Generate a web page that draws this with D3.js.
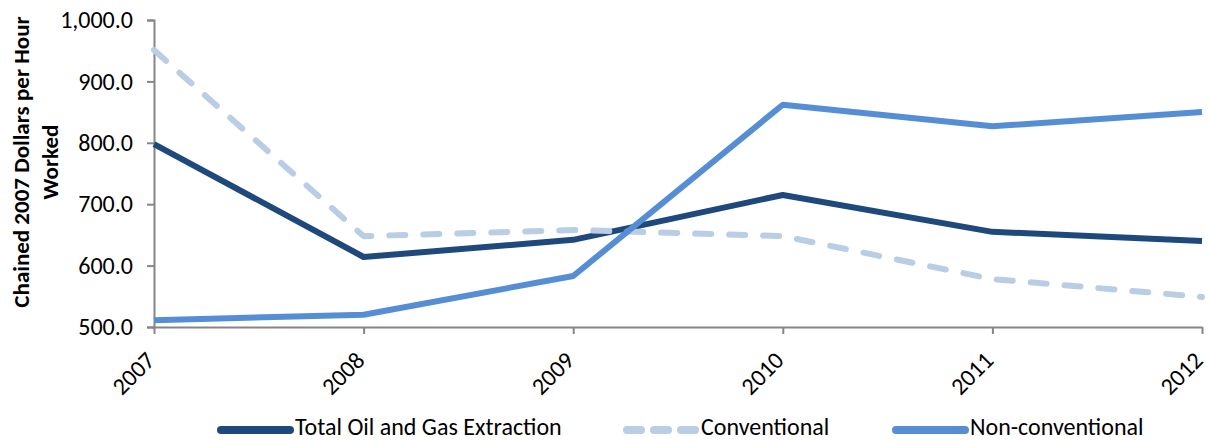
<!DOCTYPE html>
<html><head><meta charset="utf-8">
<script src="https://cdn.jsdelivr.net/npm/d3@7"></script>
<style>body{margin:0;background:#fff}svg{display:block}text{font-family:Carlito,Calibri,"Liberation Sans Narrow",Lato,sans-serif;fill:#000}</style>
</head><body><svg id="c" width="1209" height="441"></svg>
<script>
const years = ["2007","2008","2009","2010","2011","2012"];
const totalOG = [798, 614, 642, 715, 655, 640];
const conventional = [951, 648, 658, 648, 578, 549];
const nonConventional = [511, 520, 583, 862, 827, 850];
const yTicks = [500, 600, 700, 800, 900, 1000];
const seriesNames = ["Total Oil and Gas Extraction", "Conventional", "Non-conventional"];

const series = [
  {name: seriesNames[0], values: totalOG, color: "#1f497d", dash: null},
  {name: seriesNames[1], values: conventional, color: "#b9cde5", dash: "16,18"},
  {name: seriesNames[2], values: nonConventional, color: "#558ed5", dash: null}
];

const svg = d3.select("#c");
const L = 154, R = 1202, T = 20, B = 327;
const x = d3.scalePoint().domain(years).range([L, R]);
const y = d3.scaleLinear().domain([500, 1000]).range([B, T]);

const yAxis = svg.append("g").attr("transform", `translate(${L},0)`)
  .call(d3.axisLeft(y).tickValues(yTicks).tickSize(7).tickPadding(14).tickFormat(d3.format(",.1f")));
yAxis.select(".domain").attr("stroke", "#868686").attr("stroke-width", 2);
yAxis.selectAll(".tick line").attr("stroke", "#868686").attr("stroke-width", 2);
yAxis.selectAll("text").style("font-size", "24px").attr("fill", "#000");

const xAxis = svg.append("g").attr("transform", `translate(0,${B})`)
  .call(d3.axisBottom(x).tickSize(7).tickSizeOuter(0));
xAxis.select(".domain").attr("stroke", "#868686").attr("stroke-width", 2);
xAxis.selectAll(".tick line").attr("stroke", "#868686").attr("stroke-width", 2);
xAxis.selectAll("text").style("font-size", "24px").attr("fill", "#000")
  .attr("text-anchor", "end").attr("dy", "0.7em").attr("y", 0)
  .attr("transform", "translate(-10,23) rotate(-45)");

const line = d3.line().x((d, i) => x(years[i])).y(d => y(d));
series.forEach(s => {
  svg.append("path").datum(s.values).attr("d", line)
    .attr("fill", "none").attr("stroke", s.color).attr("stroke-width", 6)
    .attr("stroke-linejoin", "round")
    .attr("stroke-linecap", s.dash ? "round" : "butt")
    .attr("stroke-dasharray", s.dash);
});

// Axis title
const title = svg.append("text").attr("transform", "translate(29,162) rotate(-90)")
  .attr("text-anchor", "middle").style("font-weight", "bold").style("font-size", "23px");
title.append("tspan").attr("x", 0).attr("dy", 0).text("Chained 2007 Dollars per Hour");
title.append("tspan").attr("x", 0).attr("dy", 29).text("Worked");

// Legend
const legX = [218, 624, 893];
series.forEach((s, i) => {
  const g = svg.append("g").attr("transform", `translate(${legX[i]},430)`);
  g.append("line").attr("x1", 3).attr("x2", 72).attr("y1", 0).attr("y2", 0)
    .attr("stroke", s.color).attr("stroke-width", 8).attr("stroke-linecap", "round")
    .attr("stroke-dasharray", s.dash ? "14,13" : null);
  g.append("text").attr("x", 77).attr("y", 5).style("font-size", "24px").text(s.name);
});
</script></body></html>
